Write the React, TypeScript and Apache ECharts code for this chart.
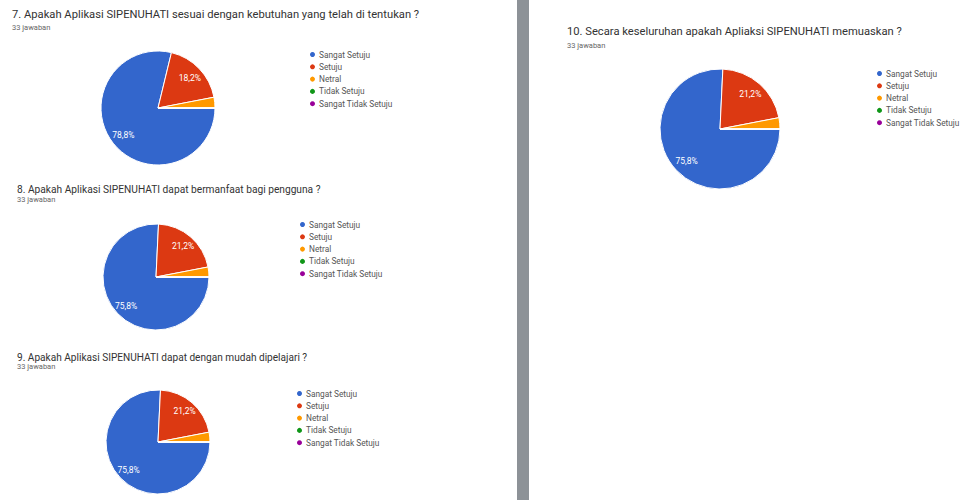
import React, { useEffect, useRef } from "react";
import * as echarts from "echarts";

// ---- data ----
const categories = ["Sangat Setuju", "Setuju", "Netral", "Tidak Setuju", "Sangat Tidak Setuju"];
const sliceColors = ["#3366cc", "#dc3912", "#ff9900", "#109618", "#990099"];
const questions = [
  "7. Apakah Aplikasi SIPENUHATI sesuai dengan kebutuhan yang telah di tentukan ?",
  "8. Apakah Aplikasi SIPENUHATI dapat bermanfaat bagi pengguna ?",
  "9. Apakah Aplikasi SIPENUHATI dapat dengan mudah dipelajari ?",
  "10. Secara keseluruhan apakah Apliaksi SIPENUHATI memuaskan ?",
];
const responseCounts = ["33 jawaban", "33 jawaban", "33 jawaban", "33 jawaban"];
const q7Values = [26, 6, 1, 0, 0];
const q8Values = [25, 7, 1, 0, 0];
const q9Values = [25, 7, 1, 0, 0];
const q10Values = [25, 7, 1, 0, 0];
const allValues = [q7Values, q8Values, q9Values, q10Values];

// ---- layout (positions only) ----
const layout = [
  { cx: 158, cy: 108, r: 57, tx: 12, ty: 9, ts: 11.2, sy: 23, lx: 308, ly: 50 },
  { cx: 156, cy: 277, r: 53, tx: 17, ty: 184, ts: 10.2, sy: 195, lx: 298, ly: 220 },
  { cx: 158, cy: 442, r: 52, tx: 17, ty: 352, ts: 10.1, sy: 362, lx: 295, ly: 389 },
  { cx: 720, cy: 129, r: 60, tx: 567, ty: 26, ts: 11.2, sy: 41, lx: 875, ly: 69 },
];

const FONT = "Roboto, 'Liberation Sans', Arial, sans-serif";

export default function App() {
  const ref = useRef<HTMLDivElement>(null);
  useEffect(() => {
    if (!ref.current) return;
    const chart = echarts.init(ref.current, null, { renderer: "svg" });

    const titles: any[] = [];
    layout.forEach((l, i) => {
      titles.push({
        text: questions[i],
        left: l.tx,
        top: l.ty,
        padding: 0,
        textStyle: { fontFamily: FONT, fontSize: l.ts, fontWeight: "normal", color: "#333333" },
      });
      titles.push({
        text: responseCounts[i],
        left: l.tx,
        top: l.sy,
        padding: 0,
        textStyle: { fontFamily: FONT, fontSize: 7.5, fontWeight: "normal", color: "#666666" },
      });
    });

    const legends = layout.map((l) => ({
      data: categories,
      orient: "vertical",
      left: l.lx,
      top: l.ly,
      padding: 0,
      icon: "circle",
      itemWidth: 7,
      itemHeight: 7,
      itemGap: 3.3,
      selectedMode: false,
      textStyle: { fontFamily: FONT, fontSize: 8.3, color: "#555555", padding: [0, 0, 0, -2] },
    }));

    const series = layout.map((l, i) => ({
      type: "pie",
      center: [l.cx, l.cy],
      radius: [0, l.r],
      startAngle: 0,
      clockwise: true,
      percentPrecision: 1,
      avoidLabelOverlap: false,
      data: categories.map((c, j) => ({
        name: c,
        value: allValues[i][j],
        itemStyle: { color: sliceColors[j] },
      })),
      itemStyle: { borderColor: "#ffffff", borderWidth: 1 },
      label: {
        show: true,
        position: "inside",
        color: "#ffffff",
        fontFamily: FONT,
        fontSize: 8.5,
        formatter: (p: any) => (p.percent >= 5 ? String(p.percent.toFixed(1)).replace(".", ",") + "%" : ""),
      },
      labelLine: { show: false },
      labelLayout: (p: any) => {
        const lr = p.labelRect;
        const x = lr.x + lr.width / 2;
        const y = lr.y + lr.height / 2;
        return { dx: (x - l.cx) * 0.4, dy: (y - l.cy) * 0.4 };
      },
      emphasis: { disabled: true },
    }));

    chart.setOption({
      animation: false,
      backgroundColor: "#ffffff",
      title: titles,
      legend: legends,
      series,
      graphic: [
        {
          type: "rect",
          shape: { x: 517, y: 0, width: 12, height: 500 },
          style: { fill: "#8d9297" },
          silent: true,
        },
      ],
    });
    return () => chart.dispose();
  }, []);
  return (
    <div
      ref={ref}
      style={{ position: "absolute", left: 0, top: 0, width: 969, height: 500 }}
    />
  );
}
